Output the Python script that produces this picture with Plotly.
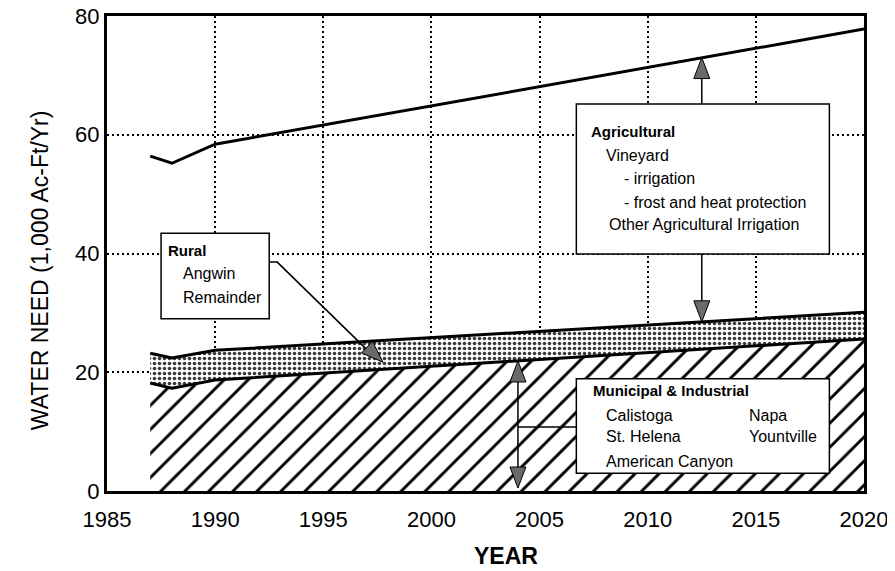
import plotly.graph_objects as go

# ---- data ----
years = [1987, 1988, 1990, 2020]
municipal = [18.2, 17.3, 18.7, 25.6]        # Municipal & Industrial
rural = [5.0, 5.1, 5.0, 4.5]                # Rural (stacked on M&I)
agricultural = [33.2, 32.8, 34.7, 47.7]     # Agricultural (stacked on Rural)

x_ticks = [1985, 1990, 1995, 2000, 2005, 2010, 2015, 2020]
y_ticks = [0, 20, 40, 60, 80]

FONT = "Liberation Sans, Arial, Helvetica, sans-serif"

fig = go.Figure()
fig.add_trace(go.Scatter(
    x=years, y=municipal, stackgroup="one", mode="lines", name="Municipal & Industrial",
    line=dict(color="black", width=3),
    fillpattern=dict(shape="/", fgcolor="black", bgcolor="white", size=17, solidity=0.17,
                     fillmode="replace"),
    fillcolor="white", hoverinfo="skip"))
fig.add_trace(go.Scatter(
    x=years, y=rural, stackgroup="one", mode="lines", name="Rural",
    line=dict(color="black", width=3),
    fillpattern=dict(shape=".", fgcolor="#3a3a3a", bgcolor="white", size=5, solidity=0.4,
                     fillmode="replace"),
    fillcolor="white", hoverinfo="skip"))
fig.add_trace(go.Scatter(
    x=years, y=agricultural, stackgroup="one", mode="lines", name="Agricultural",
    fill="none", line=dict(color="black", width=3), hoverinfo="skip"))

shapes = []
annotations = []

def box(x0, x1, y0, y1):
    shapes.append(dict(type="rect", xref="x", yref="y", x0=x0, x1=x1, y0=y0, y1=y1,
                       line=dict(color="black", width=1.5), fillcolor="white", layer="above"))

def seg(xs, ys, width=1.5):
    path = "M " + " L ".join(f"{a},{b}" for a, b in zip(xs, ys))
    shapes.append(dict(type="path", xref="x", yref="y", path=path,
                       line=dict(color="black", width=width), layer="above"))

def head(x, y, pts):
    # triangular arrow head, pts in pixels relative to tip (y up)
    path = "M 0,0 " + " ".join(f"L {a},{b}" for a, b in pts) + " Z"
    shapes.append(dict(type="path", xref="x", yref="y", xsizemode="pixel", ysizemode="pixel",
                       xanchor=x, yanchor=y, path=path, fillcolor="#6a6a6a",
                       line=dict(color="black", width=1), layer="above"))

def label(x, y, text, bold=False, size=None):
    if size is None:
        size = 15 if bold else 16
    annotations.append(dict(x=x, y=y, xref="x", yref="y", text=f"<b>{text}</b>" if bold else text,
                            showarrow=False, xanchor="left", yanchor="middle",
                            font=dict(family=FONT, size=size, color="black")))

# Agricultural box & arrows
ax_ = 2012.5
seg([ax_, ax_], [65.2, 70.0])
head(ax_, 73.0, [(-8, -21), (8, -21)])
seg([ax_, ax_], [39.9, 31.5])
head(ax_, 28.5, [(-8, 21), (8, 21)])
box(2006.7, 2018.4, 39.9, 65.2)
label(2007.3, 60.5, "Agricultural", bold=True)
label(2008.0, 56.5, "Vineyard")
label(2008.8, 52.6, "- irrigation")
label(2008.8, 48.6, "- frost and heat protection")
label(2008.1, 44.9, "Other Agricultural Irrigation")

# Rural box & arrow
seg([1992.5, 1992.87, 1997.3], [38.55, 38.55, 22.8])
head(1997.76, 21.7, [(-21.5, 9.2), (-10.5, 20.8)])
box(1987.5, 1992.5, 29.0, 43.4)
label(1987.75, 40.5, "Rural", bold=True)
label(1988.4, 36.6, "Angwin")
label(1988.4, 32.6, "Remainder")

# Municipal & Industrial box & arrows
mx = 2004.0
seg([mx, mx], [19.0, 3.4])
head(mx, 21.9, [(-8, -21), (8, -21)])
head(mx, 0.5, [(-8, 21), (8, 21)])
seg([mx, 2006.7], [10.8, 10.8])
box(2006.7, 2018.4, 3.0, 18.9)
label(2007.4, 17.0, "Municipal &amp; Industrial", bold=True)
label(2008.0, 12.8, "Calistoga")
label(2014.6, 12.8, "Napa")
label(2008.0, 9.1, "St. Helena")
label(2014.6, 9.1, "Yountville")
label(2008.0, 4.9, "American Canyon")

# axis titles as free annotations
annotations.append(dict(xref="paper", yref="paper", x=0.527, y=-0.137, text="<b>YEAR</b>",
                        showarrow=False, xanchor="center", yanchor="middle",
                        font=dict(family=FONT, size=23, color="black")))
annotations.append(dict(xref="paper", yref="paper", x=-0.0885, y=0.465,
                        text="WATER NEED (1,000 Ac-Ft/Yr)", textangle=-90,
                        showarrow=False, xanchor="center", yanchor="middle",
                        font=dict(family=FONT, size=23, color="black")))

# the page body adds an 8px margin, so the figure is made 8px smaller and shifted
fig.update_layout(
    width=887, height=563,
    margin=dict(l=99, r=31, t=8, b=80, autoexpand=False),
    paper_bgcolor="white", plot_bgcolor="white",
    showlegend=False,
    font=dict(family=FONT, color="black"),
    shapes=shapes, annotations=annotations,
)
fig.update_xaxes(
    range=[1985, 2020], tickvals=x_ticks, ticktext=[str(v) for v in x_ticks],
    tickfont=dict(size=22, family=FONT), ticks="", ticklabelstandoff=7, showgrid=True,
    ticklabeloverflow="allow",
    gridcolor="black", griddash="2px,3px", gridwidth=2, automargin=False,
    showline=True, linecolor="black", linewidth=3, mirror=True, zeroline=False,
)
fig.update_yaxes(
    range=[0, 80], tickvals=y_ticks, ticktext=[str(v) for v in y_ticks],
    tickfont=dict(size=22, family=FONT), ticks="", ticklabelstandoff=0, showgrid=True,
    ticklabeloverflow="allow",
    gridcolor="black", griddash="2px,3px", gridwidth=2, automargin=False,
    showline=True, linecolor="black", linewidth=3, mirror=True, zeroline=False,
)

fig.write_html("out.html")
